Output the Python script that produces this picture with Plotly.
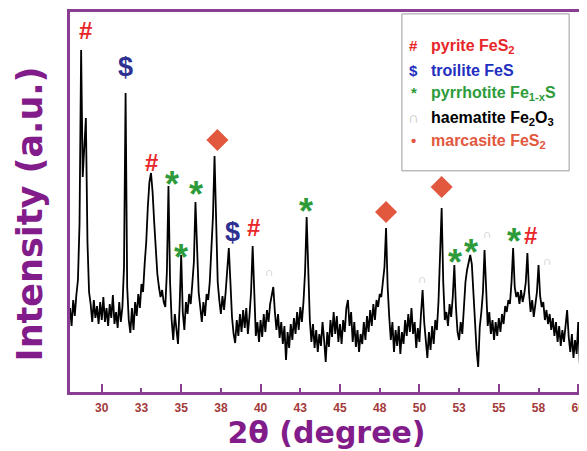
import numpy as np
import plotly.graph_objects as go

# ---------------- data ----------------
two_theta = np.round(np.arange(28.0, 60.31, 0.1), 1)

intensity = [
    84, 66, 92, 76, 97, 112, 168, 342, 215, 240,      # 28
    274, 150, 100, 88, 70, 92, 74, 86, 68, 90,        # 29
    72, 95, 70, 84, 66, 88, 74, 97, 68, 80,           # 30
    64, 90, 70, 85, 125, 299, 105, 72, 59, 84,        # 31
    62, 90, 76, 98, 84, 108, 100, 128, 150, 185,      # 32
    210, 219, 200, 170, 140, 118, 105, 95, 102, 90,   # 33
    85, 120, 206, 110, 72, 52, 78, 60, 48, 85,        # 34
    137, 80, 62, 90, 78, 98, 88, 108, 130, 190,       # 35
    140, 100, 85, 70, 90, 76, 98, 92, 110, 140,       # 36
    175, 236, 160, 110, 92, 78, 96, 82, 100, 118,     # 37
    144, 110, 75, 58, 49, 72, 56, 78, 60, 82,         # 38
    64, 84, 58, 76, 100, 146, 88, 56, 70, 50,         # 39
    72, 55, 78, 60, 82, 70, 88, 95, 105, 80,          # 40
    62, 78, 54, 70, 48, 66, 32, 60, 44, 68,           # 41
    52, 74, 58, 80, 62, 85, 70, 90, 120, 175,         # 42
    110, 72, 50, 68, 44, 62, 40, 58, 46, 70,          # 43
    52, 30, 60, 45, 72, 55, 80, 58, 76, 50,           # 44
    68, 48, 72, 60, 84, 92, 66, 80, 50, 70,           # 45
    45, 62, 40, 58, 48, 70, 52, 76, 60, 82,           # 46
    66, 88, 72, 92, 85, 98, 95, 108, 125, 164,        # 47
    105, 75, 52, 70, 40, 62, 46, 66, 38, 60,          # 48
    48, 72, 56, 78, 60, 84, 58, 70, 44, 64,           # 49
    50, 78, 102, 70, 52, 34, 60, 42, 66, 48,          # 50
    72, 62, 90, 130, 184, 110, 72, 80, 66, 88,        # 51
    75, 95, 127, 85, 60, 52, 70, 58, 90, 110,         # 52
    122, 130, 137, 128, 95, 60, 42, 25, 65, 80,       # 53
    100, 142, 95, 66, 80, 58, 72, 52, 70, 56,         # 54
    74, 60, 78, 68, 86, 80, 92, 88, 110, 144,         # 55
    105, 95, 100, 88, 102, 90, 98, 110, 139, 100,     # 56
    80, 92, 75, 90, 100, 127, 96, 85, 90, 72,         # 57
    82, 68, 78, 62, 74, 56, 70, 50, 66, 46,           # 58
    62, 50, 68, 82, 55, 40, 58, 34, 52, 38,           # 59
    70, 28, 62, 40,                                   # 60
]

tick_vals = [30, 32.5, 35, 37.5, 40, 42.5, 45, 47.5, 50, 52.5, 55, 57.5, 60]
tick_text = ["30", "33", "35", "38", "40", "43", "45", "48", "50", "53", "55", "58", "60"]
major_ticks = [30, 35, 40, 45, 50, 55, 60]

# peak assignments (2theta, label height in a.u.)
pyrite_x = [28.95, 33.13, 39.58, 56.98]
pyrite_y = [362, 230, 165, 157]
troilite_x = [31.48, 38.24]
troilite_y = [325, 160]
pyrrhotite_x = [34.45, 35.95, 35.0, 42.83, 52.22, 53.27, 55.93]
pyrrhotite_y = [218, 208, 145, 191, 140, 150, 161]
haematite_x = [40.57, 50.17, 54.26, 58.07]
haematite_y = [120, 113, 158, 131]
marcasite_x = [37.28, 47.9, 51.4]
marcasite_y = [252, 180, 205]

# ---------------- styles ----------------
PURPLE = "#8A3E92"
TITLE_PURPLE = "#821C8A"
TICK_RED = "#A3393A"
RED = "#E8262A"
NAVY = "#2E3192"
BLUE = "#1F2FC0"
GREEN = "#2E9B3A"
ORANGE = "#E2583E"
GRAY = "#C4C4C4"

fig = go.Figure()

fig.add_trace(go.Scatter(
    x=two_theta, y=intensity, mode="lines",
    line=dict(color="black", width=1.8),
    showlegend=False, hoverinfo="skip"))

# dummy trace to draw the longer ticks on an overlaid axis
fig.add_trace(go.Scatter(
    x=two_theta[:1], y=intensity[:1], xaxis="x2", mode="markers",
    marker=dict(opacity=0), showlegend=False, hoverinfo="skip"))

fig.add_trace(go.Scatter(
    x=marcasite_x, y=marcasite_y, mode="markers",
    marker=dict(symbol="diamond", size=17, color=ORANGE),
    showlegend=False, hoverinfo="skip"))

annotations = []

def add_labels(xs, ys, sym, color, size, yshift=0):
    for xv, yv in zip(xs, ys):
        annotations.append(dict(
            x=xv, y=yv, xref="x", yref="y", text="<b>%s</b>" % sym,
            showarrow=False, yshift=yshift,
            font=dict(family="Liberation Sans, Arial", size=size, color=color)))

add_labels(pyrite_x, pyrite_y, "#", RED, 24)
add_labels(troilite_x, troilite_y, "$", NAVY, 27)
add_labels(pyrrhotite_x, pyrrhotite_y, "*", GREEN, 36, yshift=-10)
add_labels(haematite_x, haematite_y, "∩", GRAY, 12)

# legend block
leg_font = "Liberation Sans, Arial"
leg_items = [
    ("#", RED, "pyrite FeS<sub>2</sub>", RED, 0.940),
    ("$", BLUE, "troilite FeS", BLUE, 0.875),
    ("*", GREEN, "pyrrhotite Fe<sub>1-x</sub>S", GREEN, 0.816),
    ("∩", GRAY, "haematite Fe<sub>2</sub>O<sub>3</sub>", "black", 0.750),
    ("•", ORANGE, "marcasite FeS<sub>2</sub>", ORANGE, 0.690),
]
for sym, scol, label, lcol, yp in leg_items:
    annotations.append(dict(
        x=0.670, y=yp, xref="paper", yref="paper", text="<b>%s</b>" % sym,
        showarrow=False, xanchor="center",
        font=dict(family=leg_font, size=15, color=scol)))
    annotations.append(dict(
        x=0.699, y=yp, xref="paper", yref="paper", text="<b>%s</b>" % label,
        showarrow=False, xanchor="left",
        font=dict(family=leg_font, size=16, color=lcol)))

# y-axis title
annotations.append(dict(
    x=-0.078, y=0.47, xref="paper", yref="paper", text="Intensity (a.u.)",
    textangle=-90, showarrow=False, xanchor="center", yanchor="middle",
    font=dict(family="DejaVu Sans", size=35, color=TITLE_PURPLE, weight="bold")))

# the page adds an 8 px body margin, so the margins are offset by it
fig.update_layout(
    width=587, height=451,
    margin=dict(l=62, r=12, t=4, b=67),
    paper_bgcolor="white", plot_bgcolor="white",
    annotations=annotations,
    shapes=[dict(type="rect", xref="paper", yref="paper",
                 x0=0.647, x1=0.973, y0=0.582, y1=0.995,
                 line=dict(color="#9A9A9A", width=1), fillcolor="rgba(0,0,0,0)")],
    xaxis=dict(
        range=[28.0, 60.3], showgrid=False, zeroline=False, automargin=False,
        showline=True, mirror=True, linecolor=PURPLE, linewidth=2.5,
        ticks="inside", tickvals=tick_vals, ticktext=tick_text,
        ticklen=4, tickwidth=1.5, tickcolor=PURPLE,
        ticklabelstandoff=3,
        tickfont=dict(family="Liberation Sans, Arial", size=12, color=TICK_RED, weight="bold"),
        title=dict(text="2θ (degree)", standoff=3,
                   font=dict(family="DejaVu Sans", size=30, color=TITLE_PURPLE, weight="bold")),
    ),
    xaxis2=dict(
        range=[28.0, 60.3], overlaying="x", anchor="y", side="bottom",
        showgrid=False, zeroline=False, showline=False, automargin=False,
        ticks="inside", tickvals=major_ticks, ticklen=8, tickwidth=1.5,
        tickcolor=PURPLE, showticklabels=False),
    yaxis=dict(
        range=[0, 380], showgrid=False, zeroline=False, automargin=False,
        showline=True, mirror=True, linecolor=PURPLE, linewidth=2.5,
        ticks="", showticklabels=False),
)

fig.write_html("out.html")
